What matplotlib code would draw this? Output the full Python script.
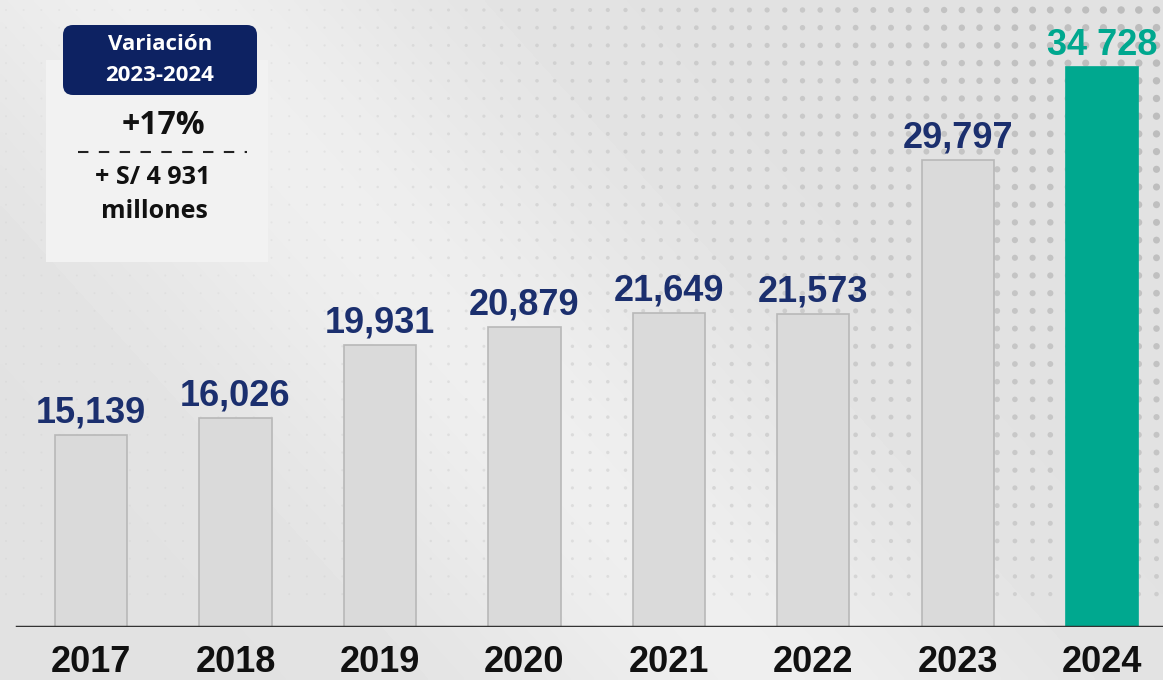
import numpy as np
import matplotlib.pyplot as plt
from matplotlib.patches import FancyBboxPatch, Rectangle

years = ['2017', '2018', '2019', '2020', '2021', '2022', '2023', '2024']
values = [15139, 16026, 19931, 20879, 21649, 21573, 29797, 34728]
labels = ['15,139', '16,026', '19,931', '20,879', '21,649', '21,573', '29,797', '34 728']

navy = '#1b2f6e'
teal = '#00a88f'
plt.rcParams['font.family'] = ['Liberation Sans', 'DejaVu Sans']
boxfont = ['Open Sans', 'DejaVu Sans']

fig = plt.figure(figsize=(11.63, 6.8), dpi=100)

# background: light gray with a soft diagonal highlight and a dot pattern
bg = fig.add_axes([0, 0, 1, 1], zorder=0)
bg.set_xlim(0, 1163)
bg.set_ylim(680, 0)
bg.axis('off')
gx, gy = np.meshgrid(np.linspace(0, 1163, 300), np.linspace(0, 680, 180))
d = (gx - 0.9 * gy - 150) / 260.0
shade = 0.885 + 0.05 * np.exp(-d ** 2)
bg.imshow(shade, extent=[0, 1163, 680, 0], cmap='gray', vmin=0, vmax=1,
          aspect='auto', interpolation='bilinear')
dx, dy = np.meshgrid(np.arange(6, 1163, 17.7), np.arange(10, 600, 17.7))
dx, dy = dx.ravel(), dy.ravel()
w = np.clip((dx - 250) / 900.0, 0, 1) * np.clip((640 - dy) / 640.0, 0, 1) ** 0.3
bg.scatter(dx, dy, s=2 + 28 * w ** 1.5, c='#b5b5b5', alpha=np.clip(0.15 + 0.7 * w, 0, 1),
           linewidths=0)

ax = fig.add_axes([0, 0.078, 1, 0.922], zorder=1)
ax.patch.set_alpha(0)
x = np.arange(len(years))
colors = ['#dadada'] * (len(years) - 1) + [teal]
edges = ['#b8b8b8'] * (len(years) - 1) + [teal]
ax.bar(x, values, width=0.5, color=colors, edgecolor=edges, linewidth=1.2, zorder=2)
ax.set_xlim(-0.63, 7.42)
ax.set_ylim(4904, 38326)
ax.axhline(4904, xmin=0.015, xmax=1, color='#333333', lw=2.5, zorder=3)
for xi, v, lab in zip(x, values, labels):
    c = teal if xi == len(years) - 1 else navy
    ax.text(xi, v + 250, lab, ha='center', va='bottom', fontsize=26,
            fontweight='bold', color=c, zorder=4)
ax.axis('off')
for xi, yr in zip(x, years):
    fig.text((xi + 0.63) / 8.05, 1 - 663 / 680, yr, ha='center', va='center',
             fontsize=26, fontweight='bold', color='#111111')

# variation box
bx = fig.add_axes([0, 0, 1, 1], zorder=5)
bx.set_xlim(0, 1163)
bx.set_ylim(680, 0)
bx.axis('off')
bx.add_patch(Rectangle((46, 60), 222, 202, facecolor='#f2f2f2', edgecolor='none'))
bx.add_patch(FancyBboxPatch((63, 25), 194, 70, boxstyle='round,pad=0,rounding_size=10',
                            facecolor='#0d2262', edgecolor='none'))
bx.text(160, 60, 'Variación\n2023-2024', ha='center', va='center', color='white',
        fontsize=16, fontweight='bold', family=boxfont, linespacing=1.6)
bx.text(163, 126, '+17%', ha='center', va='center', color='#111111',
        fontsize=23, fontweight='bold', family=boxfont)
bx.plot([78, 247], [152, 152], color='#222222', lw=1.5, dashes=(5, 5))
bx.text(153, 178, '+ S/ 4 931', ha='center', va='center', color='#111111',
        fontsize=18, fontweight='bold', family=boxfont)
bx.text(154, 212, 'millones', ha='center', va='center', color='#111111',
        fontsize=18, fontweight='bold', family=boxfont)

fig.savefig('out.png', dpi=100)
